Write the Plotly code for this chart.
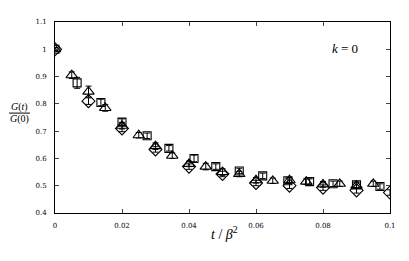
import plotly.graph_objects as go

# Diamonds
t_dia = [0.0, 0.01, 0.02, 0.03, 0.04, 0.05, 0.06, 0.07, 0.08, 0.09, 0.1]
g_dia = [1.0, 0.81, 0.71, 0.633, 0.57, 0.543, 0.51, 0.50, 0.493, 0.483, 0.475]
e_dia = [0.006, 0.012, 0.012, 0.01, 0.01, 0.01, 0.01, 0.01, 0.01, 0.01, 0.01]

# Triangles
t_tri = [0.0, 0.005, 0.01, 0.015, 0.02, 0.025, 0.03, 0.035, 0.04, 0.045,
         0.05, 0.055, 0.06, 0.065, 0.07, 0.075, 0.08, 0.085, 0.09, 0.095]
g_tri = [1.0, 0.905, 0.845, 0.785, 0.72, 0.685, 0.645, 0.61, 0.58, 0.57,
         0.55, 0.543, 0.52, 0.518, 0.52, 0.515, 0.505, 0.507, 0.50, 0.507]
e_tri = [0.006, 0.012, 0.02, 0.012, 0.012, 0.01, 0.012, 0.01, 0.01, 0.012,
         0.012, 0.01, 0.01, 0.01, 0.01, 0.01, 0.01, 0.01, 0.01, 0.01]

# Squares
t_sq = [0.0, 0.0066, 0.0137, 0.02, 0.0275, 0.034, 0.0415, 0.048, 0.055,
        0.062, 0.0695, 0.076, 0.083, 0.09, 0.097]
g_sq = [1.0, 0.877, 0.805, 0.733, 0.683, 0.637, 0.60, 0.57, 0.554,
        0.536, 0.518, 0.515, 0.507, 0.503, 0.497]
e_sq = [0.006, 0.02, 0.012, 0.012, 0.01, 0.01, 0.012, 0.01, 0.01,
        0.01, 0.01, 0.01, 0.01, 0.01, 0.01]

x_ticks = [0, 0.02, 0.04, 0.06, 0.08, 0.1]
x_labels = ["0", "0.02", "0.04", "0.06", "0.08", "0.1"]
y_ticks = [0.4, 0.5, 0.6, 0.7, 0.8, 0.9, 1.0, 1.1]
y_labels = ["0.4", "0.5", "0.6", "0.7", "0.8", "0.9", "1", "1.1"]

fig = go.Figure()


def add_series(t, g, e, symbol, size):
    fig.add_trace(go.Scatter(
        x=t, y=g, mode="markers",
        marker=dict(symbol=symbol, size=size, color="black",
                    line=dict(color="black", width=1.1)),
        error_y=dict(type="data", array=e, color="black", thickness=1, width=3),
        showlegend=False,
    ))


add_series(t_dia, g_dia, e_dia, "diamond-open", 10)
add_series(t_tri, g_tri, e_tri, "triangle-up-open", 10)
add_series(t_sq, g_sq, e_sq, "square-open", 8)

font_tick = dict(family="DejaVu Serif", size=7, color="black")

fig.update_xaxes(range=[0, 0.1], tickvals=x_ticks, ticktext=x_labels,
                 ticks="inside", ticklen=4, tickcolor="#444", mirror="ticks",
                 showline=True, linecolor="black", linewidth=1, showgrid=False,
                 zeroline=False, tickfont=font_tick, ticklabelstandoff=6)
fig.update_yaxes(range=[0.4, 1.1], tickvals=y_ticks, ticktext=y_labels,
                 ticks="inside", ticklen=4, tickcolor="#444", mirror="ticks",
                 showline=True, linecolor="black", linewidth=1, showgrid=False,
                 zeroline=False, tickfont=font_tick, ticklabelstandoff=6)

serif = "Liberation Serif"
fig.update_layout(
    width=409, height=261,
    margin=dict(l=47, r=27, t=10, b=56),
    plot_bgcolor="white", paper_bgcolor="white",
    annotations=[
        dict(x=0.91, y=0.86, xref="paper", yref="paper",
             text="<i>k</i> = 0", showarrow=False, xanchor="right",
             yanchor="middle",
             font=dict(family=serif, size=13, color="black")),
        dict(x=0.507, y=-0.103, xref="paper", yref="paper", yanchor="middle",
             xanchor="center",
             text="<i>t</i> / <i>β</i><sup>2</sup>", showarrow=False,
             font=dict(family=serif, size=14, color="black")),
        dict(x=-0.106, y=0.523, xref="paper", yref="paper", yanchor="middle",
             xanchor="center", yshift=6, text="<i>G</i>(<i>t</i>)",
             showarrow=False,
             font=dict(family=serif, size=10, color="black")),
        dict(x=-0.106, y=0.523, xref="paper", yref="paper", yanchor="middle",
             xanchor="center", yshift=-6, text="<i>G</i>(0)",
             showarrow=False,
             font=dict(family=serif, size=10, color="black")),
    ],
    shapes=[dict(type="line", xref="paper", yref="paper",
                 x0=-0.137, x1=-0.075, y0=0.523, y1=0.523,
                 line=dict(color="black", width=1))],
)

fig.write_html("out.html")
